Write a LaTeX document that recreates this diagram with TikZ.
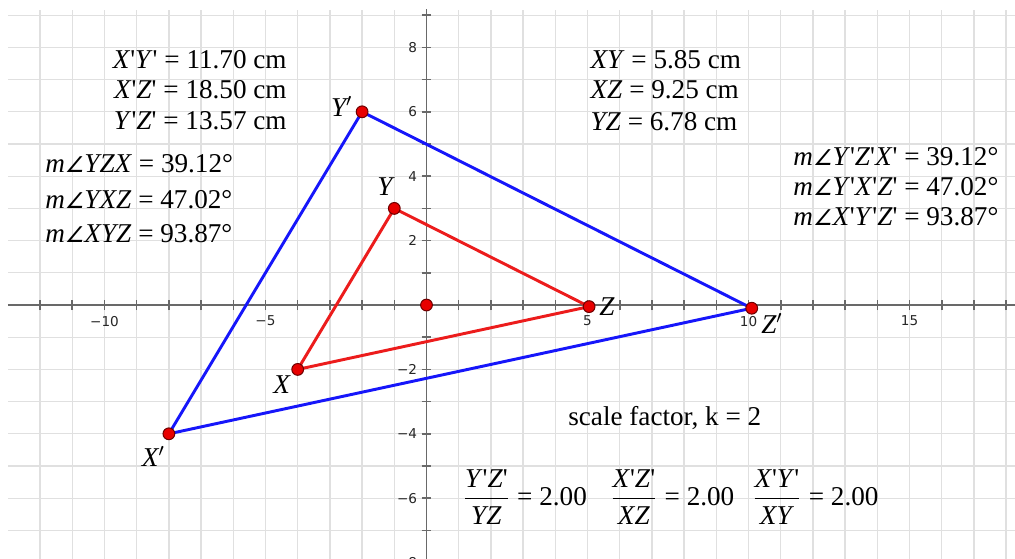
\documentclass[tikz,border=0pt]{standalone}
\usepackage{fontspec}
\newfontfamily\tms{Liberation Serif}
\newfontfamily\angfont[FakeSlant=0.2,Scale=0.8]{DejaVu Sans}
\newfontfamily\axfont{DejaVu Sans}
\newcommand\iv[1]{\textit{#1}}
\newcommand\ang{{\angfont ∠}}
\definecolor{gridgray}{RGB}{224,224,224}
\definecolor{axisgray}{RGB}{105,105,105}
\definecolor{trired}{RGB}{236,28,28}
\definecolor{triblue}{RGB}{22,22,250}
\definecolor{dotred}{RGB}{232,0,0}
\definecolor{dotedge}{RGB}{110,0,0}
\tikzset{
  gridline/.style={draw=gridgray, line width=0.6pt},
  axisline/.style={draw=axisgray, line width=0.7pt},
  axlabel/.style={font=\axfont\fontsize{6}{7}\selectfont, text=black!85, inner sep=0pt},
  txt/.style={font=\tms\fontsize{12}{14}\selectfont, inner sep=0pt},
  vlabel/.style={font=\tms\itshape\fontsize{12}{14}\selectfont, inner sep=0pt},
  redtri/.style={draw=trired, line width=1.3pt, line join=round},
  bluetri/.style={draw=triblue, line width=1.3pt, line join=round},
  ptdot/.style={circle, fill=dotred, draw=dotedge, line width=0.45pt, inner sep=0pt, minimum size=5.2pt}
}
\begin{document}
\begin{tikzpicture}[x=0.5cm,y=0.5cm]
\useasboundingbox (-13.245,-7.857) rectangle (18.276,9.472);
\clip (-13.245,-7.857) rectangle (18.276,9.472);
% grid
\foreach \i in {-7,...,9} \draw[gridline] (-13,\i) -- (18.3,\i);
\foreach \i in {-12,...,18} \draw[gridline] (\i,-7.9) -- (\i,9.17);
% axes
\draw[axisline] (-13,0) -- (18.3,0);
\draw[axisline] (0,-7.9) -- (0,9.2);
\foreach \i in {-12,...,18} \draw[axisline] (\i,-0.155) -- (\i,0.155);
\foreach \i in {-7,...,9} \draw[axisline] (-0.155,\i) -- (0.155,\i);
\foreach \v/\t in {-10/−10,-5/−5,5/5,10/10,15/15}
  \node[axlabel] (xl\v) at (\v,-0.5) {\t};
\foreach \v/\t in {8/8,6/6,4/4,2/2,-2/−2,-4/−4,-6/−6,-8/−8}
  \node[axlabel, anchor=east] (yl\v) at (-0.28,\v) {\t};
% points
\coordinate (O) at (0,0);
\coordinate (X) at (-4,-2);
\coordinate (Y) at (-1,3);
\coordinate (Z) at (5.05,-0.05);
\coordinate (Xp) at (-8,-4);
\coordinate (Yp) at (-2,6);
\coordinate (Zp) at (10.1,-0.1);
\draw[bluetri] (Xp) -- (Yp) -- (Zp) -- cycle;
\draw[redtri] (X) -- (Y) -- (Z) -- cycle;
\node[ptdot] (dO) at (O) {};
\node[ptdot] (dX) at (X) {};
\node[ptdot] (dY) at (Y) {};
\node[ptdot] (dZ) at (Z) {};
\node[ptdot] (dXp) at (Xp) {};
\node[ptdot] (dYp) at (Yp) {};
\node[ptdot] (dZp) at (Zp) {};
% vertex labels
\node[vlabel] (lYp) at (-2.63,6.16) {Y$'$};
\node[vlabel] (lY) at (-1.29,3.67) {Y};
\node[vlabel] (lZ) at (5.6,-0.04) {Z};
\node[vlabel] (lZp) at (10.73,-0.56) {Z$'$};
\node[vlabel] (lX) at (-4.5,-2.48) {X};
\node[vlabel] (lXp) at (-8.48,-4.71) {X$'$};
% left length block
\node[txt, anchor=base east] (t1) at (-4.33,7.36) {\iv{X}'\iv{Y}' = 11.70 cm};
\node[txt, anchor=base east] (t2) at (-4.33,6.40) {\iv{X}'\iv{Z}' = 18.50 cm};
\node[txt, anchor=base east] (t3) at (-4.33,5.45) {\iv{Y}'\iv{Z}' = 13.57 cm};
% left angle block
\node[txt, anchor=base west] (a1) at (-11.85,4.10) {\iv{m}\ang\iv{YZX} = 39.12°};
\node[txt, anchor=base west] (a2) at (-11.85,3.01) {\iv{m}\ang\iv{YXZ} = 47.02°};
\node[txt, anchor=base west] (a3) at (-11.85,1.93) {\iv{m}\ang\iv{XYZ} = 93.87°};
% right length block
\node[txt, anchor=base west] (s1) at (5.08,7.36) {\iv{XY} = 5.85 cm};
\node[txt, anchor=base west] (s2) at (5.08,6.40) {\iv{XZ} = 9.25 cm};
\node[txt, anchor=base west] (s3) at (5.08,5.43) {\iv{YZ} = 6.78 cm};
% right angle block
\node[txt, anchor=base west] (b1) at (11.38,4.32) {\iv{m}\ang\iv{Y}'\iv{Z}'\iv{X}' = 39.12°};
\node[txt, anchor=base west] (b2) at (11.38,3.39) {\iv{m}\ang\iv{Y}'\iv{X}'\iv{Z}' = 47.02°};
\node[txt, anchor=base west] (b3) at (11.38,2.48) {\iv{m}\ang\iv{X}'\iv{Y}'\iv{Z}' = 93.87°};
% scale factor
\node[txt, anchor=base west] (sf) at (4.39,-3.73) {scale factor, k = 2};
% ratios
\node[txt, anchor=west] (r1) at (1.10,-5.95) {$\displaystyle\frac{\hbox{\iv{Y}'\iv{Z}'}}{\hbox{\iv{YZ}}}$ = 2.00};
\node[txt, anchor=west] (r2) at (5.68,-5.95) {$\displaystyle\frac{\hbox{\iv{X}'\iv{Z}'}}{\hbox{\iv{XZ}}}$ = 2.00};
\node[txt, anchor=west] (r3) at (10.09,-5.95) {$\displaystyle\frac{\hbox{\iv{X}'\iv{Y}'}}{\hbox{\iv{XY}}}$ = 2.00};
\end{tikzpicture}
\end{document}
